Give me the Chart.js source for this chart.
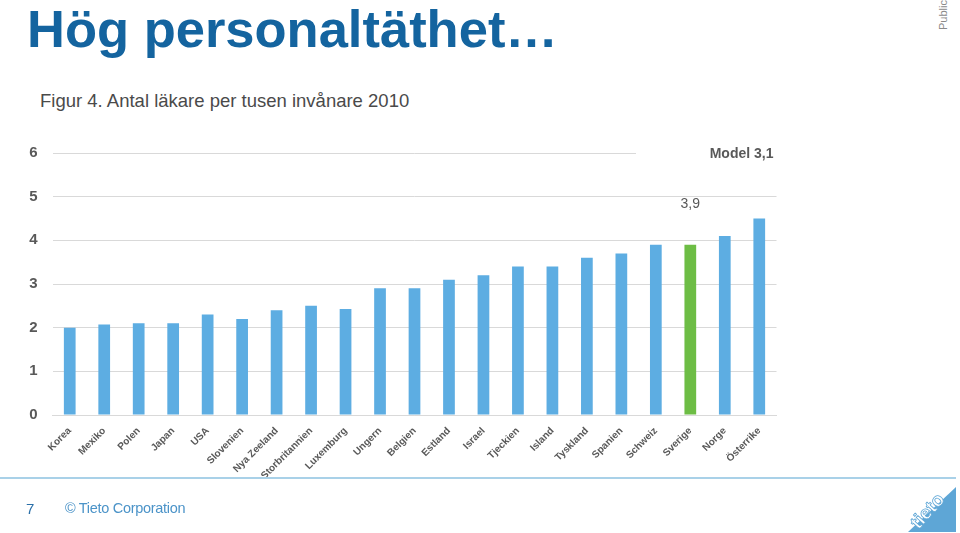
<!DOCTYPE html>
<html lang="sv">
<head>
<meta charset="utf-8">
<title>Hög personaltäthet</title>
<script src="https://cdn.jsdelivr.net/npm/chart.js@4.4.1/dist/chart.umd.min.js"></script>
<style>
	html, body { margin: 0; padding: 0; background: #fff; }
	body { width: 960px; height: 533px; position: relative; overflow: hidden; font-family: "Liberation Sans", Arial, sans-serif; }
	#chartWrap { position: absolute; left: 0; top: 0; width: 960px; height: 533px; }
	.title { position: absolute; left: 27px; top: -2px; font-size: 52.5px; font-weight: bold; color: #14649f; white-space: nowrap; }
	.subtitle { position: absolute; left: 40px; top: 90px; font-size: 18.5px; color: #4a4a4a; white-space: nowrap; }
	.public { position: absolute; left: 937px; top: 30px; font-size: 11px; color: #8a8a8a; transform-origin: 0 0; transform: rotate(-90deg); }
	.footerLine { position: absolute; left: 0; top: 477px; width: 956px; height: 2px; background: #a9d1e8; }
	.pageNo { position: absolute; left: 26px; top: 500px; font-size: 15px; color: #2a6fa8; }
	.copy { position: absolute; left: 65px; top: 500px; font-size: 14.5px; color: #4b93c8; letter-spacing: -0.3px; white-space: nowrap; }
	.logo { position: absolute; left: 900px; top: 482px; }
</style>
</head>
<body>
<div class="title">Hög personaltäthet…</div>
<div class="subtitle">Figur 4. Antal läkare per tusen invånare 2010</div>
<div class="public">Public</div>
<div id="chartWrap"><canvas id="doctorChart" width="960" height="533"></canvas></div>
<div class="footerLine"></div>
<div class="pageNo">7</div>
<div class="copy">© Tieto Corporation</div>
<svg class="logo" width="60" height="51" viewBox="0 0 60 51">
	<polygon points="8,50 56,5 56,50" fill="#5ea6d6"></polygon>
	<text x="0" y="0" transform="translate(32,33) rotate(-48)" text-anchor="middle" font-family="Liberation Sans, Arial" font-weight="bold" font-size="19" fill="#fff" stroke="#5ea6d6" stroke-width="0.8">tieto</text>
</svg>

<script>
// data
const countries = ["Korea", "Mexiko", "Polen", "Japan", "USA", "Slovenien", "Nya Zeeland", "Storbritannien",
	"Luxemburg", "Ungern", "Belgien", "Estland", "Israel", "Tjeckien", "Island", "Tyskland", "Spanien",
	"Schweiz", "Sverige", "Norge", "Österrike"];
const doctorsPer1000 = [2.0, 2.07, 2.1, 2.1, 2.3, 2.2, 2.4, 2.5, 2.43, 2.9, 2.9, 3.1, 3.2, 3.4, 3.4, 3.6, 3.7,
	3.9, 3.9, 4.1, 4.5];
const yTicks = [0, 1, 2, 3, 4, 5, 6];
const highlightCountry = "Sverige";
const swedenLabel = "3,9";
const modelLabel = "Model 3,1";

const BLUE = "#5dade2";
const GREEN = "#6dbd45";
const GREY_TEXT = "#595959";
const GRID = "#d9d9d9";

const barColors = countries.map((c) => (c === highlightCountry ? GREEN : BLUE));

// text boxes placed on top of the plot (like the slide's annotations)
const annotationPlugin = {
	id: "slideAnnotations",
	afterDatasetsDraw(chart) {
		const { ctx, scales } = chart;
		const x = scales.x;
		const y = scales.y;
		ctx.save();

		// "Model 3,1" box hides the end of the top gridline
		const topY = y.getPixelForValue(6);
		ctx.fillStyle = "#fff";
		ctx.fillRect(636, topY - 10, x.right - 636 + 4, 20);
		ctx.fillStyle = GREY_TEXT;
		ctx.font = "bold 14px 'Liberation Sans', Arial, sans-serif";
		ctx.textAlign = "right";
		ctx.textBaseline = "middle";
		ctx.fillText(modelLabel, x.right - 3, topY + 1);

		// value above Sweden
		const idx = countries.indexOf(highlightCountry);
		ctx.font = "14px 'Liberation Sans', Arial, sans-serif";
		ctx.textAlign = "center";
		ctx.fillText(swedenLabel, x.getPixelForValue(idx), y.getPixelForValue(4.82));
		ctx.restore();
	},
};

new Chart(document.getElementById("doctorChart"), {
	type: "bar",
	data: {
		labels: countries,
		datasets: [
			{
				label: "Antal läkare per tusen invånare",
				data: doctorsPer1000,
				backgroundColor: barColors,
				barPercentage: 0.34,
				categoryPercentage: 1,
			},
		],
	},
	options: {
		responsive: false,
		animation: false,
		layout: { padding: { left: 0, top: 153, right: 183.5, bottom: 0 } },
		plugins: {
			legend: { display: false },
			tooltip: { enabled: false },
		},
		scales: {
			x: {
				grid: { display: false },
				border: { display: true, color: GRID, width: 1 },
				ticks: {
					autoSkip: false,
					maxRotation: 45,
					minRotation: 45,
					padding: 2,
					color: GREY_TEXT,
					font: { family: "'Liberation Sans', Arial, sans-serif", size: 10, weight: "bold" },
				},
				afterFit: (scale) => {
					scale.height = 118;
				},
			},
			y: {
				min: yTicks[0],
				max: yTicks[yTicks.length - 1],
				afterBuildTicks: (scale) => {
					scale.ticks = yTicks.map((v) => ({ value: v }));
				},
				grid: { color: GRID, drawTicks: false },
				border: { display: false },
				ticks: {
					padding: 15,
					color: GREY_TEXT,
					font: { family: "'Liberation Sans', Arial, sans-serif", size: 15, weight: "bold" },
				},
				afterFit: (scale) => {
					scale.width = 52.5;
				},
			},
		},
	},
	plugins: [annotationPlugin],
});
</script>
</body>
</html>
